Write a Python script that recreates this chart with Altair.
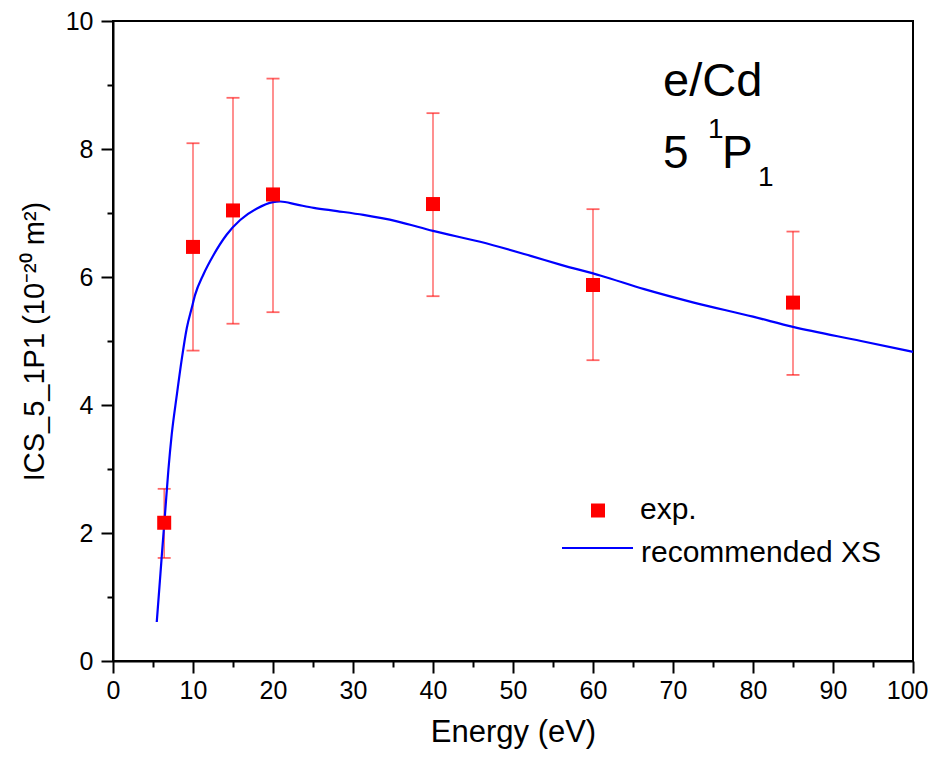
import altair as alt
import pandas as pd

# ---- data ----
curve_energy = [5.47, 5.8, 6.09, 6.51, 6.92, 7.34, 7.97, 8.6, 9.22, 9.85, 10.26, 11.3,
                12.55, 14.2, 15.9, 18.0, 20.0, 20.9, 23.0, 25.1, 28.0, 31.3, 35.5, 40.0,
                45.9, 52.2, 56.0, 61.0, 66.4, 72.6, 80.0, 85.0, 93.5, 100.0]
curve_ics = [0.61, 1.15, 1.63, 2.31, 2.98, 3.54, 4.15, 4.72, 5.20, 5.52, 5.72, 6.04,
             6.34, 6.66, 6.89, 7.07, 7.17, 7.18, 7.13, 7.08, 7.03, 6.97, 6.87, 6.72,
             6.55, 6.33, 6.19, 6.02, 5.81, 5.60, 5.38, 5.22, 5.00, 4.83]

exp_energy = [6.4, 10, 15, 20, 40, 60, 85]
exp_ics = [2.16, 6.47, 7.04, 7.29, 7.14, 5.875, 5.60]
exp_low = [1.61, 4.85, 5.27, 5.45, 5.70, 4.70, 4.47]
exp_high = [2.69, 8.09, 8.80, 9.10, 8.56, 7.06, 6.71]

x_major = [0, 10, 20, 30, 40, 50, 60, 70, 80, 90, 100]
x_minor = [5, 15, 25, 35, 45, 55, 65, 75, 85, 95]
y_major = [0, 2, 4, 6, 8, 10]
y_minor = [1, 3, 5, 7, 9]

legend_labels = ["exp.", "recommended XS"]
annot_title = ["e/Cd"]
annot_state = ["5", "1", "P", "1"]

x_title = "Energy (eV)"
y_title = "ICS_5_1P1 (10\u207b\u00b2\u2070 m\u00b2)"

# ---- build ----
FONT = "Liberation Sans"
curve_df = pd.DataFrame({"energy": curve_energy, "ics": curve_ics})
exp_df = pd.DataFrame({"energy": exp_energy, "ics": exp_ics, "low": exp_low, "high": exp_high})

xscale = alt.Scale(domain=[0, 100], nice=False, zero=False)
yscale = alt.Scale(domain=[0, 10], nice=False, zero=False)

common = dict(tickColor="black", tickWidth=2, grid=False)

x_axis_main = alt.Axis(values=x_major, tickSize=12, domainColor="black", domainWidth=2,
                       labelFont=FONT, labelFontSize=25, labelColor="black", labelPadding=5,
                       labelAlign=alt.condition("datum.value == 100", alt.value("right"), alt.value("center")),
                       labelOffset=alt.condition("datum.value == 100", alt.value(15), alt.value(0)),
                       labelFlush=False, title=x_title, titleFont=FONT, titleFontSize=31,
                       titleFontWeight="normal", titleColor="black", titlePadding=14,
                       orient="bottom", **common)
x_axis_minor = alt.Axis(values=x_minor, tickSize=6, domain=False, labels=False,
                        title=None, orient="bottom", **common)
y_axis_main = alt.Axis(values=y_major, tickSize=12, domainColor="black", domainWidth=2,
                       labelFont=FONT, labelFontSize=25, labelColor="black", labelPadding=8,
                       labelFlush=False, title=y_title, titleFont=FONT, titleFontSize=29,
                       titleFontWeight="normal", titleColor="black", titlePadding=16,
                       orient="left", **common)
y_axis_minor = alt.Axis(values=y_minor, tickSize=6, domain=False, labels=False,
                        title=None, orient="left", **common)

curve = alt.Chart(curve_df).mark_line(color="#0000ff", strokeWidth=2.2, interpolate="monotone").encode(
    x=alt.X("energy:Q", scale=xscale, axis=x_axis_main),
    y=alt.Y("ics:Q", scale=yscale, axis=y_axis_main),
)

errbars = alt.Chart(exp_df).mark_rule(color="#ff0000", opacity=0.55, strokeWidth=1.6).encode(
    x=alt.X("energy:Q", scale=xscale, axis=x_axis_minor),
    y=alt.Y("low:Q", scale=yscale, axis=y_axis_minor),
    y2="high:Q",
)
cap_lo = alt.Chart(exp_df).mark_tick(color="#ff0000", opacity=0.6, thickness=1.8, size=13,
                                     orient="horizontal").encode(
    x=alt.X("energy:Q", scale=xscale, axis=None),
    y=alt.Y("low:Q", scale=yscale, axis=None),
)
cap_hi = alt.Chart(exp_df).mark_tick(color="#ff0000", opacity=0.6, thickness=1.8, size=13,
                                     orient="horizontal").encode(
    x=alt.X("energy:Q", scale=xscale, axis=None),
    y=alt.Y("high:Q", scale=yscale, axis=None),
)
points = alt.Chart(exp_df).mark_square(color="#ff0000", opacity=1, size=196).encode(
    x=alt.X("energy:Q", scale=xscale, axis=None),
    y=alt.Y("ics:Q", scale=yscale, axis=None),
)

# legend (drawn inside the plot)
leg_sq = alt.Chart(pd.DataFrame({"label": [legend_labels[0]]})).mark_square(
    color="#ff0000", opacity=1, size=196).encode(x=alt.value(485), y=alt.value(489.5))
leg_line = alt.Chart(pd.DataFrame({"label": [legend_labels[1]]})).mark_rule(
    color="#0000ff", strokeWidth=2).encode(x=alt.value(449), x2=alt.value(520), y=alt.value(527))
leg_t1 = alt.Chart(pd.DataFrame({"label": [legend_labels[0]]})).mark_text(
    align="left", baseline="alphabetic", font=FONT, fontSize=30, color="black").encode(
    x=alt.value(527), y=alt.value(498), text="label:N")
leg_t2 = alt.Chart(pd.DataFrame({"label": [legend_labels[1]]})).mark_text(
    align="left", baseline="alphabetic", font=FONT, fontSize=30, color="black").encode(
    x=alt.value(528), y=alt.value(541), text="label:N")

# annotation
def txt(s, x, y, size):
    return alt.Chart(pd.DataFrame({"t": [s]})).mark_text(
        align="left", baseline="alphabetic", font=FONT, fontSize=size, color="black").encode(
        x=alt.value(x), y=alt.value(y), text="t:N")

a0 = txt(annot_title[0], 550, 75, 47)
a1 = txt(annot_state[0], 550, 147, 46)
a2 = txt(annot_state[1], 595, 117, 28)
a3 = txt(annot_state[2], 609, 147, 46)
a4 = txt(annot_state[3], 645, 165, 28)

chart = alt.layer(
    errbars, cap_lo, cap_hi, curve, points,
    leg_sq, leg_line, leg_t1, leg_t2, a0, a1, a2, a3, a4,
).resolve_axis(x="independent", y="independent").properties(
    width=800, height=640,
    autosize=alt.AutoSizeParams(type="none"),
    padding={"left": 105, "top": 13, "right": 15, "bottom": 91},
    background="white",
).configure_view(stroke="black", strokeWidth=2)

chart.save("out.html", embed_options={"renderer": "svg", "actions": False})
